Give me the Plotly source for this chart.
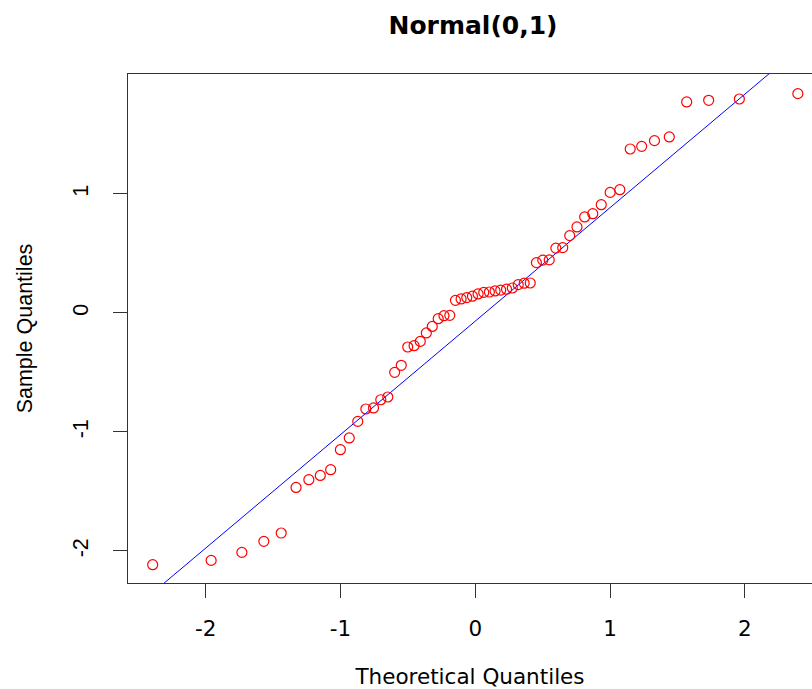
import plotly.graph_objects as go
import numpy as np

# Theoretical normal quantiles (n = 60)
theoretical_neg = [-2.394, -1.960, -1.732, -1.569, -1.440, -1.330, -1.235, -1.150,
                   -1.073, -1.001, -0.935, -0.872, -0.812, -0.755, -0.701, -0.649,
                   -0.598, -0.549, -0.501, -0.454, -0.408, -0.363, -0.319, -0.275,
                   -0.232, -0.189, -0.147, -0.105, -0.063, -0.021]
theoretical = theoretical_neg + [-v for v in reversed(theoretical_neg)]

# Sample quantiles (sorted)
sample = [-2.115, -2.079, -2.012, -1.919, -1.849, -1.466, -1.401, -1.365, -1.317, -1.149,
          -1.050, -0.911, -0.807, -0.798, -0.729, -0.706, -0.499, -0.440, -0.286, -0.275,
          -0.239, -0.168, -0.113, -0.048, -0.023, -0.020, 0.106, 0.118, 0.129, 0.141,
          0.160, 0.173, 0.176, 0.185, 0.192, 0.200, 0.210, 0.238, 0.250, 0.252,
          0.423, 0.444, 0.446, 0.545, 0.549, 0.650, 0.723, 0.807, 0.834, 0.910,
          1.013, 1.036, 1.378, 1.400, 1.448, 1.479, 1.773, 1.787, 1.798, 1.843]

x_ticks = [-2, -1, 0, 1, 2]
y_ticks = [-2, -1, 0, 1]
x_range = [-2.577, 2.499]
y_range = [-2.269, 2.008]

title_text = "Normal(0,1)"
x_title = "Theoretical Quantiles"
y_title = "Sample Quantiles"

# qqline: line through the first and third quartiles
q1, q3 = np.quantile(sample, [0.25, 0.75])
z1, z3 = -0.6744898, 0.6744898
slope = (q3 - q1) / (z3 - z1)
intercept = q1 - slope * z1
line_x = x_range
line_y = [intercept + slope * v for v in line_x]

fig = go.Figure()
fig.add_trace(go.Scatter(
    x=line_x, y=line_y, mode="lines",
    line=dict(color="#0000FF", width=1),
    hoverinfo="skip", showlegend=False,
))
fig.add_trace(go.Scatter(
    x=theoretical, y=sample, mode="markers",
    marker=dict(symbol="circle-open", size=10, color="#FF0000",
                line=dict(color="#FF0000", width=1.2)),
    showlegend=False,
))

axis_col = "#333333"
fig.update_layout(
    width=812, height=689, autosize=False,
    margin=dict(l=128, r=0, t=74, b=106),
    paper_bgcolor="white", plot_bgcolor="white",
    title=dict(text="<b>" + title_text + "</b>",
               font=dict(family="DejaVu Sans", size=25, color="black"),
               x=473 / 812, xref="container", xanchor="center",
               y=1 - 25 / 689, yref="container", yanchor="middle"),
    xaxis=dict(
        range=x_range, tickvals=x_ticks, ticktext=[str(v) for v in x_ticks],
        ticks="outside", ticklen=14, tickwidth=1, tickcolor=axis_col,
        ticklabelstandoff=12,
        showline=True, linecolor=axis_col, linewidth=1, mirror=True,
        showgrid=False, zeroline=False,
        tickfont=dict(family="DejaVu Sans", size=21.5, color="black"),
        title=dict(text=x_title, standoff=30,
                   font=dict(family="DejaVu Sans", size=21.5, color="black")),
    ),
    yaxis=dict(
        range=y_range, tickvals=y_ticks, ticktext=[str(v) for v in y_ticks],
        tickangle=-90,
        ticks="outside", ticklen=14, tickwidth=1, tickcolor=axis_col,
        ticklabelstandoff=16,
        showline=True, linecolor=axis_col, linewidth=1, mirror=False,
        showgrid=False, zeroline=False,
        tickfont=dict(family="Liberation Sans", size=21.5, color="black"),
        title=dict(text=y_title, standoff=30,
                   font=dict(family="Liberation Sans", size=21.5, color="black")),
    ),
)

fig.write_html("out.html")
